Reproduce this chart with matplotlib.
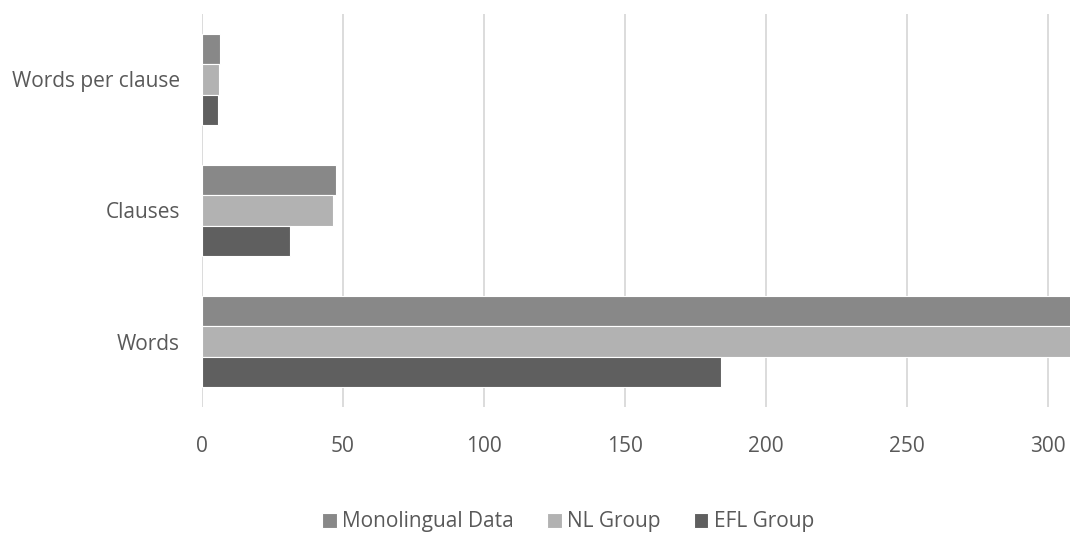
import matplotlib.pyplot as plt
import numpy as np

categories = ["Words", "Clauses", "Words per clause"]
series_names = ["Monolingual Data", "NL Group", "EFL Group"]
monolingual = [315, 47.4, 6.4]
nl_group = [312, 46.5, 6.0]
efl_group = [184, 31.3, 5.6]
series_colors = ["#888888", "#b2b2b2", "#5f5f5f"]
x_ticks = [0, 50, 100, 150, 200, 250, 300]

plt.rcParams['font.family'] = ['Open Sans', 'DejaVu Sans']

fig = plt.figure(figsize=(10.7, 5.33), dpi=100)
ax = fig.add_axes([202 / 1070, 126 / 533, 1 - 202 / 1070, 393 / 533])

y = np.arange(len(categories))
bar_h = 0.233
# top bar of each group is the first series
offsets = [bar_h, 0, -bar_h]
for values, name, color, off in zip([monolingual, nl_group, efl_group],
                                    series_names, series_colors, offsets):
    ax.barh(y + off, values, height=bar_h, color=color, label=name,
            edgecolor="white", linewidth=0.8, zorder=3)

ax.set_xlim(0, 307.8)
ax.set_ylim(-0.5, 2.5)
ax.set_yticks(y)
ax.set_yticklabels(categories)
ax.set_xticks(x_ticks)
ax.xaxis.grid(True, color="#d9d9d9", linewidth=1.3, zorder=0)
ax.tick_params(axis="both", length=0, labelsize=15, labelcolor="#595959")
ax.tick_params(axis="x", pad=21)
ax.tick_params(axis="y", pad=16)
for s in ax.spines.values():
    s.set_visible(False)

fig.legend(loc="center", bbox_to_anchor=(568 / 1070, 11 / 533), ncol=3,
           frameon=False, fontsize=15, labelcolor="#595959",
           handlelength=0.7, handleheight=0.7, handletextpad=0.25,
           columnspacing=1.6)

fig.savefig("out.png", dpi=100)
